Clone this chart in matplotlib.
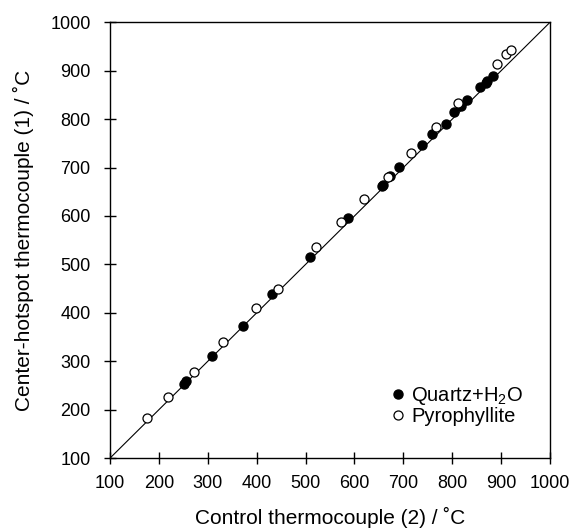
import matplotlib
matplotlib.use("Agg")
import matplotlib.pyplot as plt

plt.rcParams["font.family"] = ["Liberation Sans", "DejaVu Sans"]
plt.rcParams["mathtext.default"] = "regular"

# Quartz+H2O (filled)
quartz_x = [252, 256, 308, 371, 432, 508, 587, 656, 658, 672, 692, 738, 758, 787, 804, 818, 830, 856, 869, 872, 884]
quartz_y = [253, 260, 310, 373, 439, 515, 595, 661, 664, 683, 701, 747, 770, 790, 814, 827, 840, 867, 875, 878, 889]

# Pyrophyllite (open)
pyro_x = [176, 219, 271, 331, 399, 443, 521, 573, 620, 669, 716, 766, 811, 891, 909, 920]
pyro_y = [183, 227, 277, 339, 409, 449, 535, 588, 634, 681, 730, 784, 834, 913, 934, 943]

ticks = [100, 200, 300, 400, 500, 600, 700, 800, 900, 1000]

fig = plt.figure(figsize=(5.73, 5.29), dpi=100)
ax = fig.add_axes([0.192, 0.134, 0.768, 0.824])

ax.plot([100, 1000], [100, 1000], color="black", linewidth=0.8, zorder=1)
ax.plot(quartz_x, quartz_y, "o", color="black", markersize=6.5, label="Quartz+H$_2$O", zorder=3)
ax.plot(pyro_x, pyro_y, "o", markerfacecolor="white", markeredgecolor="black",
        markeredgewidth=0.9, markersize=6.5, label="Pyrophyllite", zorder=4)

ax.set_xlim(100, 1000)
ax.set_ylim(100, 1000)
ax.set_xticks(ticks)
ax.set_yticks(ticks)
ax.tick_params(direction="inout", length=8, width=1, labelsize=13)
ax.tick_params(axis="x", pad=8)
ax.tick_params(axis="y", pad=10)
for s in ax.spines.values():
    s.set_linewidth(1)

ax.set_xlabel("Control thermocouple (2) / \u02daC", fontsize=15, labelpad=11)
ax.set_ylabel("Center-hotspot thermocouple (1) / \u02daC", fontsize=15, labelpad=12)

ax.legend(loc="lower left", bbox_to_anchor=(0.609, 0.055), frameon=False, fontsize=14.5,
          handletextpad=0.05, labelspacing=0.0, borderaxespad=0, handlelength=1.2)

fig.savefig("out.png", dpi=100)
